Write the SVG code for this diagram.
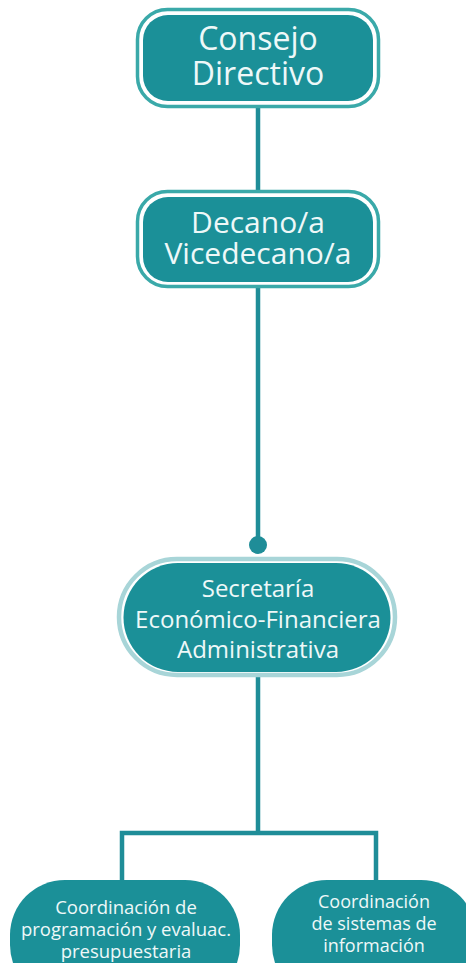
<svg xmlns="http://www.w3.org/2000/svg" width="466" height="963" viewBox="0 0 466 963">
<style>
.ring{fill:none;stroke:#3aa9a9;stroke-width:3.5}
.ring2{fill:none;stroke:#a8d5d8;stroke-width:4.5}
.fill{fill:#1b9098}
.t{fill:#eef8f8;font-family:"Open Sans","Noto Sans",sans-serif;text-anchor:middle}
.c{stroke:#1f8d98;stroke-width:4.5;fill:none}
</style>
<rect width="466" height="963" fill="#ffffff"/>
<g id="connectors">
<line class="c" x1="258" y1="107" x2="258" y2="191"/>
<line class="c" x1="258" y1="287" x2="258" y2="545"/>
<circle cx="258" cy="545" r="9" fill="#1f8d98"/>
<line class="c" x1="258" y1="677" x2="258" y2="833"/>
<polyline class="c" points="122,882 122,833 376,833 376,882"/>
</g>
<g id="consejo">
<rect class="ring" x="137.5" y="9.5" width="241" height="97" rx="30"/>
<rect class="fill" x="143" y="15" width="230" height="86" rx="25"/>
<text class="t" x="258" y="50" font-size="32">Consejo</text>
<text class="t" x="258" y="85" font-size="32">Directivo</text>
</g>
<g id="decano">
<rect class="ring" x="137.5" y="191.5" width="241" height="95" rx="30"/>
<rect class="fill" x="143" y="197" width="230" height="85" rx="25"/>
<text class="t" x="258" y="233" font-size="30">Decano/a</text>
<text class="t" x="258" y="264" font-size="30">Vicedecano/a</text>
</g>
<g id="secretaria">
<rect class="ring2" x="119" y="559" width="276" height="116" rx="58"/>
<rect class="fill" x="123.5" y="563" width="267" height="109" rx="54.5"/>
<text class="t" x="258" y="597" font-size="24">Secretaría</text>
<text class="t" x="258" y="628" font-size="24">Económico-Financiera</text>
<text class="t" x="258" y="658" font-size="24">Administrativa</text>
</g>
<g id="coord-programacion">
<rect class="fill" x="10" y="880" width="230" height="120" rx="55"/>
<text class="t" x="126" y="914" font-size="18.5">Coordinación de</text>
<text class="t" x="126" y="936" font-size="18.5">programación y evaluac.</text>
<text class="t" x="126" y="958" font-size="18.5">presupuestaria</text>
</g>
<g id="coord-sistemas">
<rect class="fill" x="272" y="880" width="204" height="120" rx="55"/>
<text class="t" x="374" y="908" font-size="18">Coordinación</text>
<text class="t" x="374" y="930" font-size="18">de sistemas de</text>
<text class="t" x="374" y="952" font-size="18">información</text>
</g>
</svg>
